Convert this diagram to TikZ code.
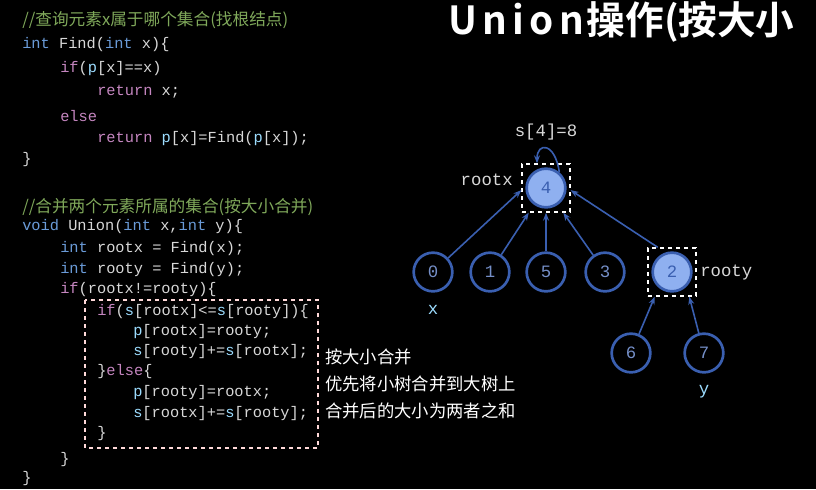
\documentclass[tikz,border=0pt]{standalone}
\usepackage{fontspec}
\setmonofont{Liberation Mono}
\newfontfamily\cjk{Noto Sans CJK SC}
\newfontfamily\cjkb{Noto Sans CJK SC Bold}
\usetikzlibrary{arrows.meta,positioning}
\definecolor{bgc}{HTML}{000000}
\definecolor{cmt}{HTML}{7FA85A}
\definecolor{kwc}{HTML}{C586C0}
\definecolor{tyc}{HTML}{6A9BD8}
\definecolor{arc}{HTML}{9CDCFE}
\definecolor{txc}{HTML}{D8D8D8}
\definecolor{edgec}{HTML}{3A5FB0}
\definecolor{fillc}{HTML}{8FB0F0}
\newcommand{\kw}[1]{\textcolor{kwc}{#1}}
\newcommand{\ty}[1]{\textcolor{tyc}{#1}}
\newcommand{\ar}[1]{\textcolor{arc}{#1}}
\tikzset{
  code/.style={anchor=west,inner sep=0pt,text=txc,font=\fontsize{11.5}{13}\ttfamily},
  cmtl/.style={anchor=west,inner sep=0pt,text=cmt,font=\fontsize{12.5}{13}\cjk},
  note/.style={anchor=west,inner sep=0pt,text=white,font=\fontsize{13}{13}\cjk},
  vert/.style={circle,draw=edgec,line width=2pt,minimum size=29pt,inner sep=0pt,text=edgec!70!white,font=\fontsize{13}{13}\ttfamily},
  root/.style={vert,fill=fillc,text=edgec},
  box/.style={draw=white,dashed,line width=1pt,minimum size=36pt,inner sep=0pt},
  lab/.style={text=txc,font=\fontsize{13}{13}\ttfamily,inner sep=0pt},
  link/.style={-{Stealth[length=6pt]},draw=edgec,line width=1.2pt}
}
\begin{document}
\begin{tikzpicture}[x=0.75pt,y=-0.75pt]
\fill[bgc] (0,0) rectangle (816,489);
\useasboundingbox (0,0) rectangle (816,489);

% title
\node[anchor=west,inner sep=0pt,text=white,font=\fontsize{29}{29}\cjkb] (title) at (448,22) {U\kern4pt n\kern4pt i\kern4pt o\kern4pt n\kern2pt 操作(按大小};

% code: Find
\node[cmtl] (c1) at (22,20) {//查询元素x属于哪个集合(找根结点)};
\node[code] (f1) at (22,45) {\ty{int} Find(\ty{int} x)\{};
\node[code] (f2) at (60,69) {\kw{if}(\ar{p}[x]==x)};
\node[code] (f3) at (97,92) {\kw{return} x;};
\node[code] (f4) at (60,116) {\kw{else}};
\node[code] (f5) at (97,139) {\kw{return} \ar{p}[x]=Find(\ar{p}[x]);};
\node[code] (f6) at (22,160) {\}};

% code: Union
\node[cmtl] (c2) at (22,207) {//合并两个元素所属的集合(按大小合并)};
\node[code] (u1) at (22,227) {\ty{void} Union(\ty{int} x,\ty{int} y)\{};
\node[code] (u2) at (60,249) {\ty{int} rootx = Find(x);};
\node[code] (u3) at (60,270) {\ty{int} rooty = Find(y);};
\node[code] (u4) at (60,290) {\kw{if}(rootx!=rooty)\{};
\node[code] (u5) at (97,312) {\kw{if}(\ar{s}[rootx]<=\ar{s}[rooty])\{};
\node[code] (u6) at (133,332) {\ar{p}[rootx]=rooty;};
\node[code] (u7) at (133,352) {\ar{s}[rooty]+=\ar{s}[rootx];};
\node[code] (u8) at (97,372) {\}\kw{else}\{};
\node[code] (u9) at (133,393) {\ar{p}[rooty]=rootx;};
\node[code] (u10) at (133,414) {\ar{s}[rootx]+=\ar{s}[rooty];};
\node[code] (u11) at (97,434) {\}};
\node[code] (u12) at (60,460) {\}};
\node[code] (u13) at (22,479) {\}};
\draw[draw=white!85!red,dashed,line width=1pt] (85,300) rectangle (318,448);

% note
\node[note] (n1) at (325,357) {按大小合并};
\node[note] (n2) at (325,384) {优先将小树合并到大树上};
\node[note] (n3) at (325,411) {合并后的大小为两者之和};

% tree
\node[root] (v4) at (546,188) {4};
\node[vert] (v0) at (433,272) {0};
\node[vert] (v1) at (490,272) {1};
\node[vert] (v5) at (546,272) {5};
\node[vert] (v3) at (605,272) {3};
\node[root] (v2) at (672,272) {2};
\node[vert] (v6) at (631,353) {6};
\node[vert] (v7) at (704,353) {7};
\node[box] (m4) at (v4) {};
\node[box] (m2) at (v2) {};

\draw[link] (v0) -- (m4.185);
\draw[link] (v1) -- (m4.235);
\draw[link] (v5) -- (m4);
\draw[link] (v3) -- (m4.305);
\draw[link] (m2.120) -- (m4.355);
\draw[link] (v6) -- (m2.235);
\draw[link] (v7) -- (m2.305);
\draw[link] (v4.50) .. controls (555,142) and (537,142) .. (m4.110);

\node[lab] (s4) at (546,132) {s[4]=8};
\node[lab,anchor=east] (rx) at (513,180) {rootx};
\node[lab,anchor=west] (ry) at (700,273) {rooty};
\node[lab,text=arc] (lx) at (433,310) {x};
\node[lab,text=arc] (ly) at (704,392) {y};
\end{tikzpicture}
\end{document}
